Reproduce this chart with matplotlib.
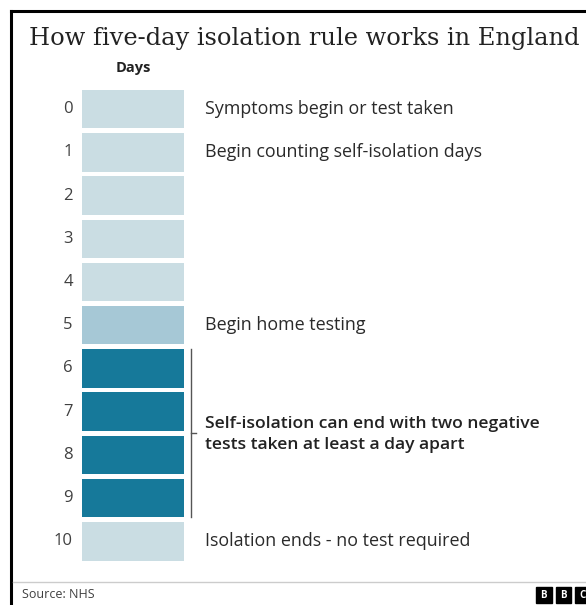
import matplotlib.pyplot as plt
from matplotlib.patches import Rectangle
from matplotlib.lines import Line2D

# Data
days = [0, 1, 2, 3, 4, 5, 6, 7, 8, 9, 10]
stage = ["iso", "iso", "iso", "iso", "iso", "test", "end", "end", "end", "end", "iso"]
notes = {
    0: "Symptoms begin or test taken",
    1: "Begin counting self-isolation days",
    5: "Begin home testing",
    10: "Isolation ends - no test required",
}
bracket_days = [6, 9]
bracket_note = "Self-isolation can end with two negative\ntests taken at least a day apart"
title = "How five-day isolation rule works in England"
source = "Source: NHS"

colours = {"iso": "#cadde3", "test": "#a6c8d6", "end": "#16799a"}
sans = ["Open Sans", "DejaVu Sans"]

W, H = 586, 605
fig = plt.figure(figsize=(W / 100, H / 100), dpi=100)

# frame lines (black border at top and left)
fig.add_artist(Line2D([11 / W, 11 / W], [0, 1 - 11 / H], color="black", lw=2.2))
fig.add_artist(Line2D([11 / W, 1], [1 - 11 / H, 1 - 11 / H], color="black", lw=2.2))

fig.text(29 / W, 1 - 38 / H, title, family="DejaVu Serif", fontsize=17.4,
         color="#222222", va="center", ha="left")

# bar axes
top_px, bot_px = 87.6, 562.9
ax = fig.add_axes([82 / W, 1 - bot_px / H, 102 / W, (bot_px - top_px) / H])
ax.barh(days, [1] * len(days), height=0.89, left=0,
        color=[colours[s] for s in stage])
ax.set_xlim(0, 1)
ax.set_ylim(10.5, -0.5)
ax.axis("off")

ax.text(0.5, -0.95, "Days", ha="center", va="center", family=sans,
        fontsize=10.5, fontweight="bold", color="#222222", clip_on=False)

for d in days:
    ax.text(-0.09, d, str(d), ha="right", va="center", family=sans,
            fontsize=12, color="#404040", clip_on=False)
    if d in notes:
        ax.text(1.205, d, notes[d], ha="left", va="center", family=sans,
                fontsize=12.9, color="#2a2a2a", clip_on=False)

b0, b1 = bracket_days[0] - 0.445, bracket_days[1] + 0.445
ax.plot([1.07, 1.07], [b0, b1], color="#555555", lw=1, clip_on=False)
mid = (bracket_days[0] + bracket_days[1]) / 2
ax.plot([1.07, 1.115], [mid, mid], color="#555555", lw=1, clip_on=False)
ax.text(1.205, mid + 0.03, bracket_note, ha="left", va="center", family=sans,
        fontsize=12.6, fontweight="semibold", color="#222222", linespacing=1.45,
        clip_on=False)

# footer
fig.add_artist(Line2D([13 / W, 1], [1 - 582 / H, 1 - 582 / H], color="#cccccc", lw=1))
fig.text(22 / W, 1 - 594 / H, source, family=sans, fontsize=9,
         color="#404040", va="center", ha="left")
for i, letter in enumerate("BBC"):
    x0 = 536 + i * 19.5
    fig.add_artist(Rectangle((x0 / W, 1 - 603 / H), 15.5 / W, 16 / H,
                             transform=fig.transFigure, color="black"))
    fig.text((x0 + 7.75) / W, 1 - 595 / H, letter, family=sans, fontsize=7,
             fontweight="bold", color="white", ha="center", va="center")

fig.savefig("out.png", dpi=100)
